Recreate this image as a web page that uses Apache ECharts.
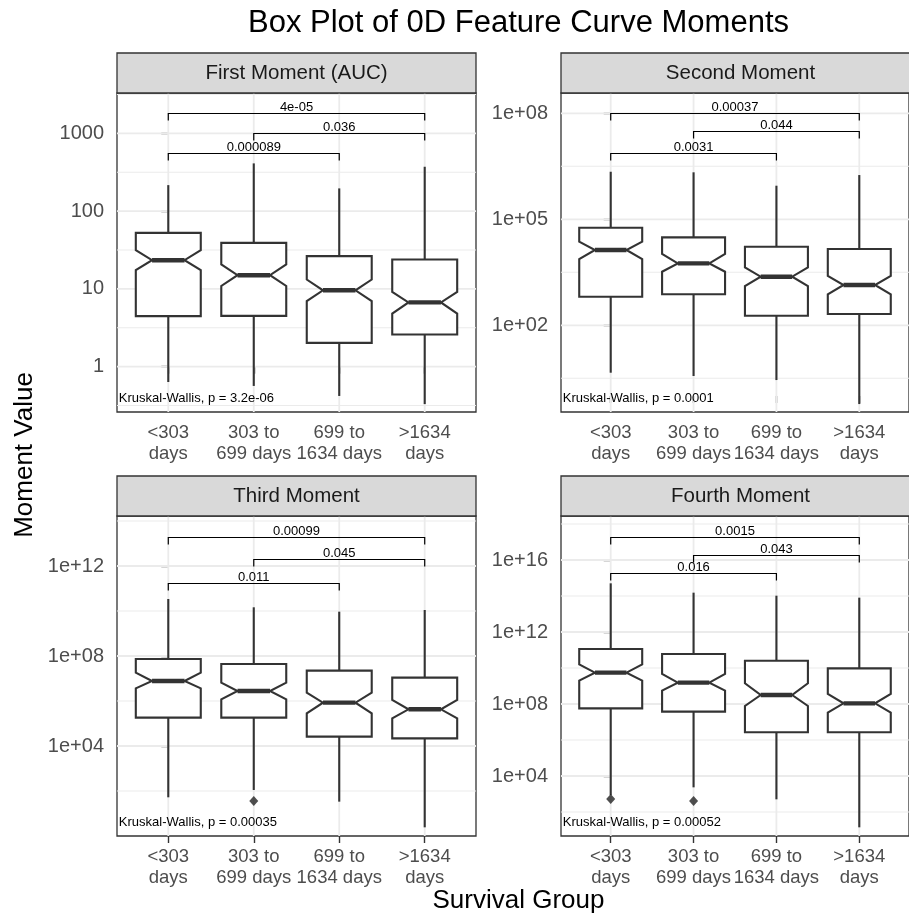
<!DOCTYPE html>
<html><head><meta charset="utf-8">
<script src="https://cdn.jsdelivr.net/npm/echarts@6/dist/echarts.min.js"></script>
<style>html,body{margin:0;padding:0;background:#fff}#c{width:909px;height:917px}</style>
</head><body><div id="c"></div>
<script>
// ---------- DATA ----------
const categories = ['<303\ndays', '303 to\n699 days', '699 to\n1634 days', '>1634\ndays'];
const panelTitles = ['First Moment (AUC)', 'Second Moment', 'Third Moment', 'Fourth Moment'];

// First Moment (AUC)
const m1Low = [0.635, 0.565, 0.42, 0.33];
const m1Q1 = [4.46, 4.5, 2.02, 2.59];
const m1NotchLow = [17.4, 10.9, 6.95, 4.82];
const m1Median = [23.4, 15.0, 9.6, 6.7];
const m1NotchHigh = [31.5, 20.6, 13.2, 9.15];
const m1Q3 = [52.6, 39.1, 26.4, 23.9];
const m1High = [216, 411, 196, 372];
const m1Outliers = [];
const m1BracketY = [1807, 1019, 562];
const m1BracketLabels = ['4e-05', '0.036', '0.000089'];
const m1TickValues = [1, 10, 100, 1000];
const m1TickLabels = ['1', '10', '100', '1000'];

// Second Moment
const m2Low = [4.55, 3.67, 2.82, 0.59];
const m2Q1 = [644, 753, 187, 208];
const m2NotchLow = [7516, 3289, 1294, 753];
const m2Median = [13520, 5675, 2371, 1380];
const m2NotchHigh = [23230, 10420, 4375, 2483];
const m2Q3 = [57810, 30900, 16750, 14420];
const m2High = [2.22e6, 2.14e6, 8.93e5, 1.79e6];
const m2Outliers = [];
const m2BracketY = [1e8, 3.16e7, 7.38e6];
const m2BracketLabels = ['0.00037', '0.044', '0.0031'];
const m2TickValues = [1e2, 1e5, 1e8];
const m2TickLabels = ['1e+02', '1e+05', '1e+08'];

// Third Moment
const m3Low = [52.4, 111, 33.6, 2.43];
const m3Q1 = [1.82e5, 1.82e5, 2.60e4, 2.19e4];
const m3NotchLow = [3.66e6, 1.19e6, 2.83e5, 1.70e5];
const m3Median = [7.74e6, 2.78e6, 8.43e5, 4.27e5];
const m3NotchHigh = [1.82e7, 6.53e6, 2.34e6, 1.11e6];
const m3Q3 = [7.36e7, 4.41e7, 2.23e7, 1.09e7];
const m3High = [3.41e10, 1.46e10, 9.33e9, 1.11e10];
const m3Outliers = [[1, 36.0]];
const m3BracketY = [2.01e13, 1.98e12, 1.82e11];
const m3BracketLabels = ['0.00099', '0.045', '0.011'];
const m3TickValues = [1e4, 1e8, 1e12];
const m3TickLabels = ['1e+04', '1e+08', '1e+12'];

// Fourth Moment
const m4Low = [879, 2344, 506, 14.1];
const m4Q1 = [5.74e7, 3.75e7, 2.67e6, 2.67e6];
const m4NotchLow = [1.98e9, 5.51e8, 7.74e7, 3.30e7];
const m4Median = [5.51e9, 1.53e9, 3.16e8, 1.09e8];
const m4NotchHigh = [1.60e10, 4.65e9, 1.41e9, 3.60e8];
const m4Q3 = [1.14e11, 6.00e10, 2.55e10, 9.57e9];
const m4High = [5.06e14, 1.53e14, 1.04e14, 8.07e13];
const m4Outliers = [[0, 527], [1, 408]];
const m4BracketY = [1.97e17, 1.90e16, 1.82e15];
const m4BracketLabels = ['0.0015', '0.043', '0.016'];
const m4TickValues = [1e4, 1e8, 1e12, 1e16];
const m4TickLabels = ['1e+04', '1e+08', '1e+12', '1e+16'];

const bracketPairs = [[0, 3], [1, 3], [0, 2]];
const kruskalLabels = ['Kruskal-Wallis, p = 3.2e-06', 'Kruskal-Wallis, p = 0.0001',
  'Kruskal-Wallis, p = 0.00035', 'Kruskal-Wallis, p = 0.00052'];

// ---------- LAYOUT ----------
const FONT = "'Liberation Sans', Arial, Helvetica, sans-serif";
const panels = [
  {low:m1Low,q1:m1Q1,nl:m1NotchLow,md:m1Median,nh:m1NotchHigh,q3:m1Q3,high:m1High,out:m1Outliers,by:m1BracketY,bl:m1BracketLabels,tv:m1TickValues,tl:m1TickLabels},
  {low:m2Low,q1:m2Q1,nl:m2NotchLow,md:m2Median,nh:m2NotchHigh,q3:m2Q3,high:m2High,out:m2Outliers,by:m2BracketY,bl:m2BracketLabels,tv:m2TickValues,tl:m2TickLabels},
  {low:m3Low,q1:m3Q1,nl:m3NotchLow,md:m3Median,nh:m3NotchHigh,q3:m3Q3,high:m3High,out:m3Outliers,by:m3BracketY,bl:m3BracketLabels,tv:m3TickValues,tl:m3TickLabels},
  {low:m4Low,q1:m4Q1,nl:m4NotchLow,md:m4Median,nh:m4NotchHigh,q3:m4Q3,high:m4High,out:m4Outliers,by:m4BracketY,bl:m4BracketLabels,tv:m4TickValues,tl:m4TickLabels}
];
const gridBoxes = [
  {left:117, top:93, width:359, height:319},
  {left:561, top:93, width:359, height:319},
  {left:117, top:516, width:359, height:320},
  {left:561, top:516, width:359, height:320}
];
const yRangeLog = [[-0.583, 3.519], [-0.454, 8.575], [0, 14.222], [0.667, 18.444]];
const L = Math.log10;

const grid = [], xAxis = [], yAxis = [], series = [], graphic = [];

panels.forEach((p, i) => {
  const g = gridBoxes[i];
  grid.push({left:g.left, top:g.top, width:g.width, height:g.height, show:true,
    borderColor:'#333333', borderWidth:1.3, backgroundColor:'#ffffff', containLabel:false});
  xAxis.push({type:'value', gridIndex:i, min:-0.6, max:3.6,
    axisLine:{show:false}, splitLine:{show:false},
    axisTick:{show:true, customValues:[0,1,2,3], length:7, lineStyle:{color:'#333333', width:1.4}},
    axisLabel:{show:true, customValues:[0,1,2,3], formatter:v => categories[Math.round(v)],
      fontSize:18.5, fontFamily:FONT, color:'#4D4D4D', lineHeight:21, margin:10}});
  const tickLog = p.tv.map(L);
  yAxis.push({type:'value', gridIndex:i, min:yRangeLog[i][0], max:yRangeLog[i][1],
    axisLine:{show:false}, splitLine:{show:false},
    axisTick:{show:true, customValues:tickLog, length:7, lineStyle:{color:'#333333', width:1.4}},
    axisLabel:{show:true, customValues:tickLog,
      formatter:v => { const k = tickLog.findIndex(t => Math.abs(t - v) < 1e-6); return k >= 0 ? p.tl[k] : ''; },
      fontSize:20, fontFamily:FONT, color:'#4D4D4D', margin:13}});

  // gridlines: majors at ticks, minors midway (log space), vertical at categories
  const step = tickLog[1] - tickLog[0];
  const gl = [];
  tickLog.forEach(t => gl.push([t, 0, 1]));
  for (let k = -1; k < tickLog.length; k++) gl.push([tickLog[0] + (k + 0.5) * step, 0, 0]);
  [0,1,2,3].forEach(c => gl.push([c, 1, 1]));
  series.push({type:'custom', xAxisIndex:i, yAxisIndex:i, z:1, silent:true, clip:true,
    data:gl,
    renderItem:(params, api) => {
      const cs = params.coordSys;
      const v = api.value(0), o = api.value(1), mj = api.value(2);
      if (o === 0) {
        const y = api.coord([0, v])[1];
        if (y < cs.y || y > cs.y + cs.height) return;
        return {type:'line', shape:{x1:cs.x, y1:y, x2:cs.x + cs.width, y2:y},
          style:{stroke:'#EBEBEB', lineWidth: mj ? 1.8 : 1.1}};
      }
      const x = api.coord([v, yRangeLog[i][0]])[0];
      return {type:'line', shape:{x1:x, y1:cs.y, x2:x, y2:cs.y + cs.height},
        style:{stroke:'#EBEBEB', lineWidth:1.8}};
    }});

  // notched boxes
  const boxData = categories.map((c, k) => [k, L(p.low[k]), L(p.q1[k]), L(p.nl[k]), L(p.md[k]), L(p.nh[k]), L(p.q3[k]), L(p.high[k])]);
  series.push({type:'custom', xAxisIndex:i, yAxisIndex:i, z:3, data:boxData,
    renderItem:(params, api) => {
      const c = api.value(0);
      const v = [1,2,3,4,5,6,7].map(d => api.value(d));
      const [wl, q1, nl, md, nh, q3, wh] = v;
      const hw = 0.38, nw = 0.19;
      const P = (x, y) => api.coord([x, y]);
      const ln = {stroke:'#333333', lineWidth:2.1};
      const top = P(c, wh), a = P(c, q3), b = P(c, q1), bot = P(c, wl);
      const poly = [P(c-hw,q3), P(c+hw,q3), P(c+hw,nh), P(c+nw,md), P(c+hw,nl), P(c+hw,q1),
                    P(c-hw,q1), P(c-hw,nl), P(c-nw,md), P(c-hw,nh)];
      const m1 = P(c-nw, md), m2 = P(c+nw, md);
      return {type:'group', children:[
        {type:'line', shape:{x1:top[0], y1:top[1], x2:a[0], y2:a[1]}, style:ln},
        {type:'line', shape:{x1:b[0], y1:b[1], x2:bot[0], y2:bot[1]}, style:ln},
        {type:'polygon', shape:{points:poly}, style:{fill:'#ffffff', stroke:'#333333', lineWidth:2.1, lineJoin:'miter'}},
        {type:'line', shape:{x1:m1[0], y1:m1[1], x2:m2[0], y2:m2[1]}, style:{stroke:'#333333', lineWidth:4.4}}
      ]};
    }});

  // outliers
  if (p.out.length) {
    series.push({type:'scatter', xAxisIndex:i, yAxisIndex:i, z:4, symbol:'diamond', symbolSize:[9,10],
      itemStyle:{color:'#222222'}, data:p.out.map(o => [o[0], L(o[1])])});
  }

  // significance brackets
  const bd = bracketPairs.map((pr, k) => [pr[0], pr[1], L(p.by[k])]);
  series.push({type:'custom', xAxisIndex:i, yAxisIndex:i, z:5, data:bd,
    renderItem:(params, api) => {
      const x1 = api.value(0), x2 = api.value(1), y = api.value(2);
      const a = api.coord([x1, y]), b = api.coord([x2, y]);
      const yy = Math.round(a[1]) + 0.5;
      const tip = 7;
      return {type:'group', children:[
        {type:'polyline', shape:{points:[[a[0], yy + tip], [a[0], yy], [b[0], yy], [b[0], yy + tip]]},
          style:{stroke:'#000000', lineWidth:1.2, fill:null}},
        {type:'text', x:(a[0] + b[0]) / 2, y:yy - 6.5,
          style:{text:p.bl[params.dataIndex], align:'center', verticalAlign:'middle',
            fontSize:13, fontFamily:FONT, fill:'#000000'}}
      ]};
    }});

  // strip
  graphic.push({type:'rect', z:100, shape:{x:g.left, y:g.top - 40, width:g.width, height:40},
    style:{fill:'#D9D9D9', stroke:'#333333', lineWidth:1.3}});
  graphic.push({type:'text', z:101, x:g.left + g.width / 2, y:g.top - 20,
    style:{text:panelTitles[i], align:'center', verticalAlign:'middle', fontSize:20.5, fontFamily:FONT, fill:'#1A1A1A'}});
  // Kruskal-Wallis label
  graphic.push({type:'text', z:101, x:g.left + 1.8, y:g.top + g.height - 14,
    style:{text:kruskalLabels[i], align:'left', verticalAlign:'middle', fontSize:13, fontFamily:FONT, fill:'#000000'}});
});

graphic.push({type:'text', z:101, x:518.5, y:23,
  style:{text:'Box Plot of 0D Feature Curve Moments', align:'center', verticalAlign:'middle', fontSize:31, fontFamily:FONT, fill:'#000000'}});
graphic.push({type:'text', z:101, x:518.5, y:901,
  style:{text:'Survival Group', align:'center', verticalAlign:'middle', fontSize:26, fontFamily:FONT, fill:'#000000'}});
graphic.push({type:'text', z:101, x:25, y:455, rotation:Math.PI / 2,
  style:{text:'Moment Value', align:'center', verticalAlign:'middle', fontSize:26, fontFamily:FONT, fill:'#000000'}});

const chart = echarts.init(document.getElementById('c'), null, {renderer:'canvas'});
chart.setOption({backgroundColor:'#ffffff', animation:false, grid, xAxis, yAxis, series, graphic});
</script></body></html>
